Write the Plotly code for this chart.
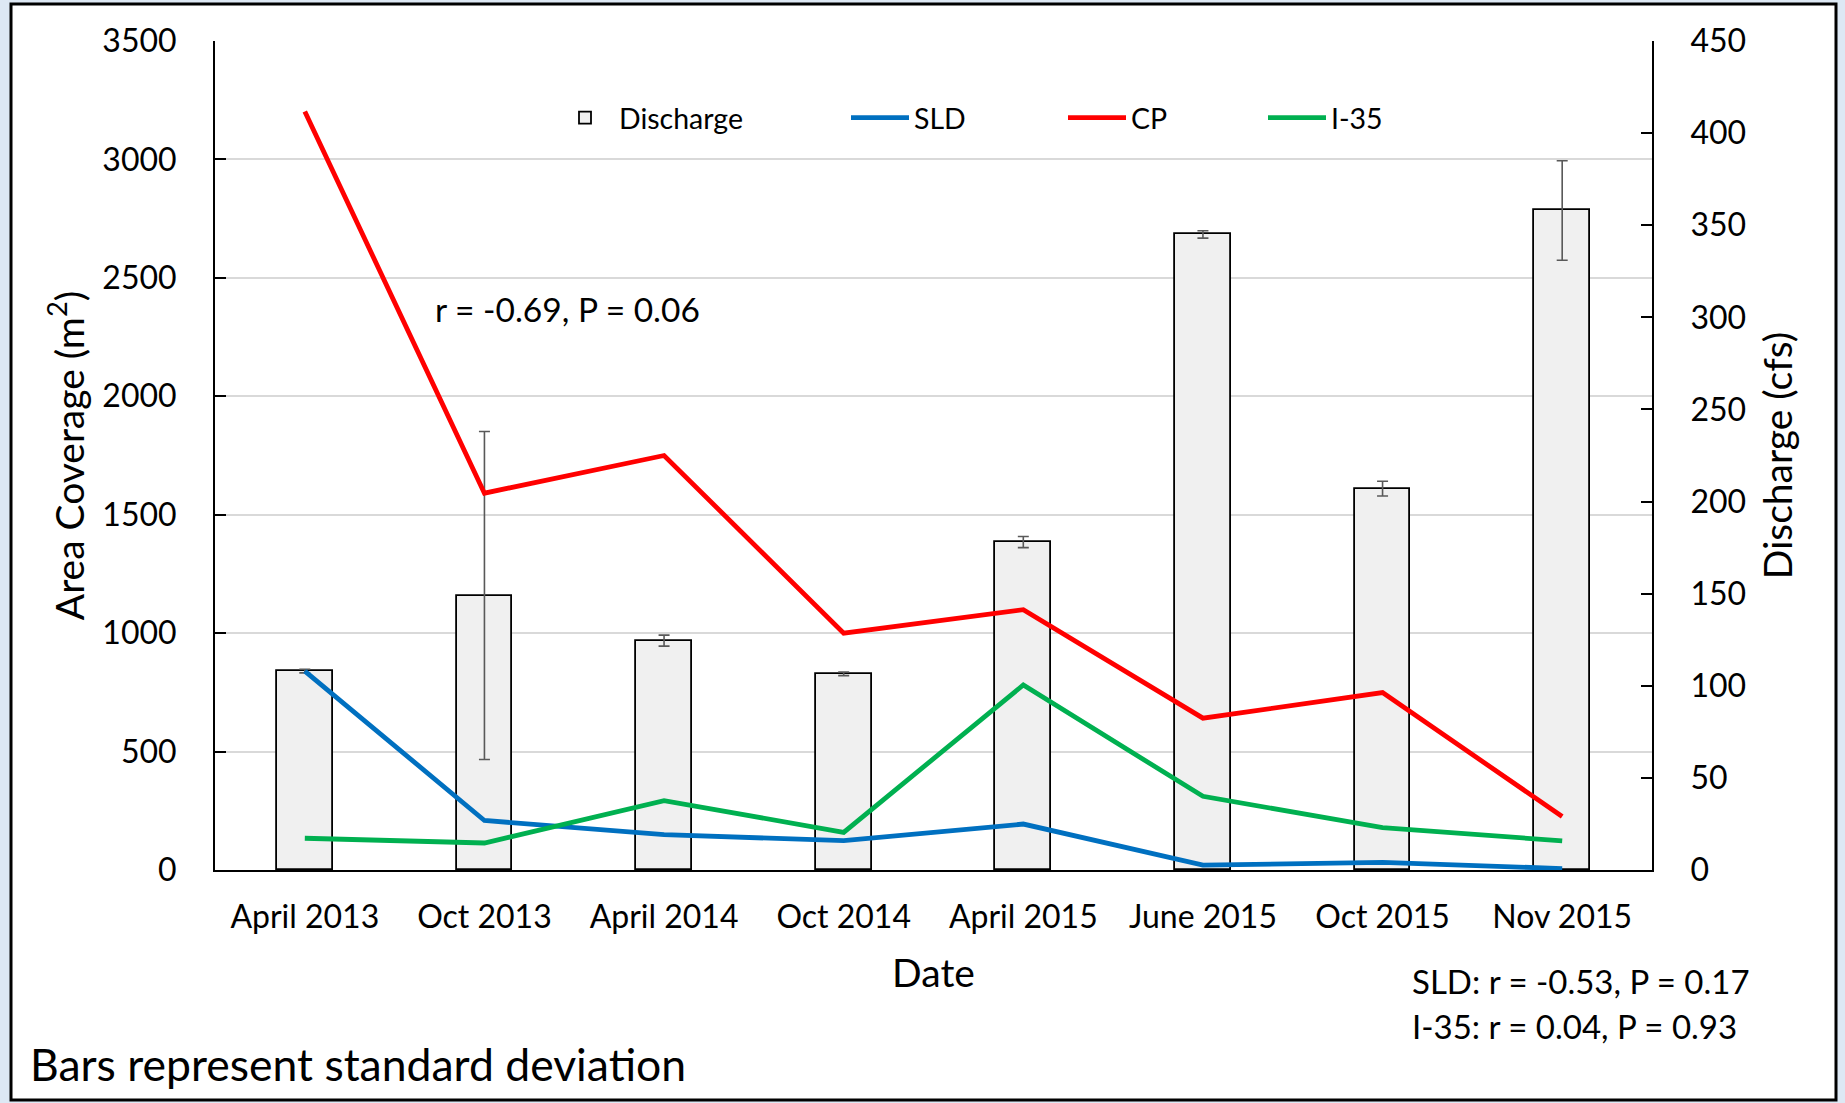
import plotly.graph_objects as go

dates = ["April 2013", "Oct 2013", "April 2014", "Oct 2014",
         "April 2015", "June 2015", "Oct 2015", "Nov 2015"]
discharge = [108, 149, 124.5, 106.5, 178, 345, 207, 358]
discharge_sd = [1, 89, 3, 1, 3, 2, 4, 27]
sld = [840, 209, 149, 124, 194, 21, 32, 6]
cp = [3202, 1591, 1750, 1000, 1099, 641, 749, 226]
i35 = [134, 114, 293, 159, 781, 311, 179, 123]

FONT = "Lato"
fig = go.Figure()

fig.add_trace(go.Bar(
    x=dates, y=discharge, name="Discharge", yaxis="y", width=0.31,
    marker=dict(color="#f0f0f0", line=dict(color="black", width=1.8)),
    error_y=dict(type="data", array=discharge_sd, visible=True,
                 color="#595959", thickness=1.6, width=5.5),
    legend="legend", showlegend=True,
))
for name, vals, col, lg in [("SLD", sld, "#0070C0", "legend2"),
                            ("CP", cp, "#FF0000", "legend3"),
                            ("I-35", i35, "#00B050", "legend4")]:
    fig.add_trace(go.Scatter(x=dates, y=vals, name=name, yaxis="y2",
                             mode="lines", line=dict(color=col, width=4.8),
                             legend=lg, showlegend=True))

L, R, T, B = 215, 193, 41, 233
PW, PH = 1845 - L - R, 1103 - T - B

def px(x):
    return (x - L) / PW

def py(y):
    return (1103 - B - y) / PH

tickfont = dict(family=FONT, size=32, color="black")
titlefont = dict(family=FONT, size=39, color="black")

leg_common = dict(orientation="h", yanchor="middle", y=py(118), xanchor="left",
                  bgcolor="rgba(0,0,0,0)", borderwidth=0,
                  font=dict(family=FONT, size=28.5, color="black"), itemwidth=58)

fig.update_layout(
    width=1845, height=1103,
    showlegend=True,
    margin=dict(l=L, r=R, t=T, b=B, autoexpand=False),
    paper_bgcolor="#dde8f4", plot_bgcolor="rgba(0,0,0,0)",
    font=dict(family=FONT, color="black"),
    bargap=0,
    xaxis=dict(showline=True, linecolor="black", linewidth=2, ticks="",
               tickfont=tickfont, ticklabelstandoff=18,
               title=dict(text="Date", font=titlefont, standoff=25),
               showgrid=False),
    yaxis=dict(side="right", range=[0, 450], dtick=50, showgrid=False,
               zeroline=False, showline=True, linecolor="black", linewidth=2,
               ticks="inside", ticklen=11, tickwidth=2, tickcolor="black",
               tickfont=tickfont, ticklabelstandoff=30,
               title=dict(text="Discharge (cfs)", font=titlefont, standoff=20)),
    yaxis2=dict(side="left", overlaying="y", range=[0, 3500], dtick=500,
                showgrid=True, gridcolor="#d9d9d9", gridwidth=2,
                zeroline=False, showline=True, linecolor="black", linewidth=2,
                ticks="inside", ticklen=11, tickwidth=2, tickcolor="black",
                tickfont=tickfont, ticklabelstandoff=30,
                title=dict(text="Area Coverage (m<sup>2</sup>)", font=titlefont, standoff=6)),
    legend=dict(x=px(551), **leg_common),
    legend2=dict(x=px(846), **leg_common),
    legend3=dict(x=px(1063), **leg_common),
    legend4=dict(x=px(1263), **leg_common),
    shapes=[dict(type="rect", xref="paper", yref="paper", layer="below",
                 x0=px(11), x1=px(1836), y0=py(1100), y1=py(4),
                 fillcolor="white", line=dict(color="black", width=3))],
    annotations=[
        dict(text="r = -0.69, P = 0.06", x=px(433), y=py(309), xref="paper", yref="paper",
             xanchor="left", yanchor="middle", showarrow=False,
             font=dict(family=FONT, size=33.5, color="black")),
        dict(text="SLD: r = -0.53, P = 0.17", x=px(1410), y=py(981), xref="paper", yref="paper",
             xanchor="left", yanchor="middle", showarrow=False,
             font=dict(family=FONT, size=33, color="black")),
        dict(text="I-35: r = 0.04, P = 0.93", x=px(1410), y=py(1026), xref="paper", yref="paper",
             xanchor="left", yanchor="middle", showarrow=False,
             font=dict(family=FONT, size=33, color="black")),
        dict(text="Bars represent standard deviation", x=px(28), y=py(1063), xref="paper", yref="paper",
             xanchor="left", yanchor="middle", showarrow=False,
             font=dict(family=FONT, size=44.5, color="black")),
    ],
)

fig.write_html("out.html", config={"displayModeBar": False},
               post_script="document.body.style.margin='0';document.body.style.overflow='hidden';")
